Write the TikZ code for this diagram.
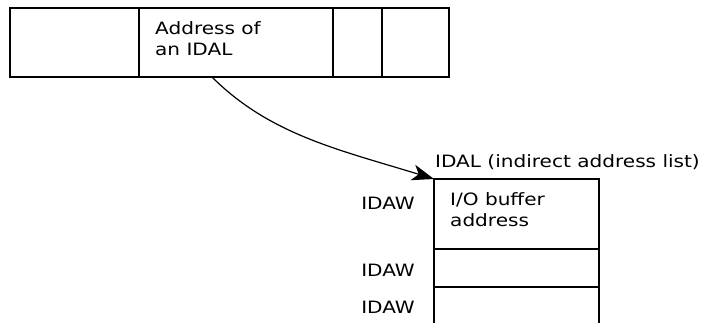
\documentclass[tikz,border=0pt]{standalone}
\usepackage{fontspec}
\usetikzlibrary{arrows.meta}
\setmainfont[FakeStretch=1.18]{DejaVu Sans}
\begin{document}
\begin{tikzpicture}[x=1pt,y=-1pt,
  box/.style={draw,line width=1.2pt},
  lbl/.style={font=\fontsize{17}{20}\selectfont,inner sep=0pt},
  txt/.style={font=\fontsize{17}{21.5}\selectfont,inner sep=0pt,align=left}]
\useasboundingbox (0,0) rectangle (705,323);
% top box
\draw[box] (10,8) rectangle (449,77);
\draw[box] (139,8) -- (139,77);
\draw[box] (333,8) -- (333,77);
\draw[box] (382,8) -- (382,77);
\node[txt,anchor=north west] (addr) at (155,21) {Address of\\an IDAL};
\coordinate (start) at (212,77);
% IDAL list
\node[lbl,anchor=base west] (idal) at (435,168) {IDAL (indirect address list)};
\coordinate (tl) at (434,179);
\draw[box] (434,323) -- (tl) -- (599,179) -- (599,323);
\draw[box] (434,249) -- (599,249);
\draw[box] (434,287) -- (599,287);
\node[txt,anchor=north west] (buf) at (450,192) {I/O buffer\\address};
\node[lbl,anchor=center] (w1) at (388,203) {IDAW};
\node[lbl,anchor=center] (w2) at (388,270) {IDAW};
\node[lbl,anchor=center] (w3) at (388,307) {IDAW};
\draw[line width=1.2pt,-{Stealth[length=22pt,width=16pt,inset=6pt]}] (start) .. controls (270,135) and (340,150) .. (tl);
\end{tikzpicture}
\end{document}
